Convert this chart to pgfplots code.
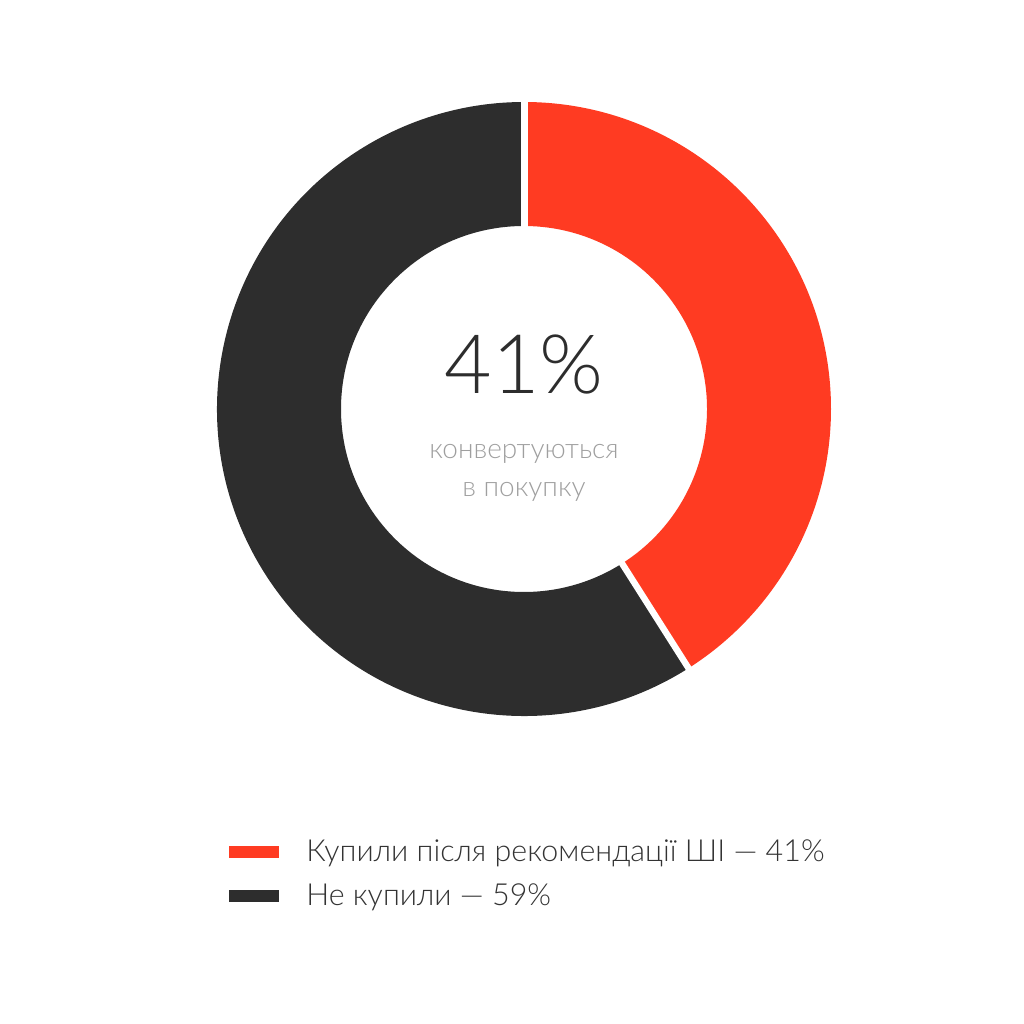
\documentclass[border=0pt]{standalone}
\usepackage{pgfplots}
\pgfplotsset{compat=1.18}
\usepackage{fontspec}
\setmainfont{Lato Light}
\definecolor{cred}{HTML}{FF3B22}
\definecolor{cdark}{HTML}{2D2D2D}
\definecolor{ctext}{HTML}{333333}
\definecolor{cgray}{HTML}{9F9F9F}
\def\valA{41}
\def\valB{59}
\begin{document}
\begin{tikzpicture}
\begin{axis}[width=512pt,height=512pt,scale only axis,
  xmin=0,xmax=1024,ymin=0,ymax=1024,hide axis,clip=false,
  legend style={at={(axis cs:229,150)},anchor=west,draw=none,fill=none,
    font=\fontsize{15.2}{17}\selectfont,text=ctext,row sep=5.5pt,
    cells={anchor=west},inner sep=0pt},
  legend image code/.code={\fill (0pt,-3pt) rectangle (25pt,3pt);\path[draw=none,fill=none] (36.5pt,0) circle[radius=0pt];},
]
\addlegendimage{fill=cred,draw=none}
\addlegendentry{Купили після рекомендації ШІ — 41\%}
\addlegendimage{fill=cdark,draw=none}
\addlegendentry{Не купили — 59\%}
\path (axis cs:524,615) coordinate (c);
\path (axis cs:0,0) coordinate (bl);
\path (axis cs:1024,1024) coordinate (tr);
\end{axis}
\pgfmathsetmacro{\angB}{90-\valA/(\valA+\valB)*360}
\pgfmathsetmacro{\angE}{\angB-\valB/(\valA+\valB)*360}
\begin{scope}[shift={(c)}]
\fill[cred] (90:153.5pt) arc[start angle=90,end angle=\angB,radius=153.5pt]
  -- (\angB:91.5pt) arc[start angle=\angB,end angle=90,radius=91.5pt] -- cycle;
\fill[cdark] (\angB:153.5pt) arc[start angle=\angB,end angle=\angE,radius=153.5pt]
  -- (\angE:91.5pt) arc[start angle=\angE,end angle=\angB,radius=91.5pt] -- cycle;
\draw[white,line width=3.5pt] (90:89pt) -- (90:156pt);
\draw[white,line width=3.2pt] (\angB:89pt) -- (\angB:156pt);
\node[text=cdark,font=\fontsize{41}{43}\selectfont,inner sep=0pt] at (0,22pt) {41\%};
\node[text=cgray,font=\fontsize{14}{19}\selectfont,align=center,inner sep=0pt] at (0,-32pt) {конвертуються\\в покупку};
\end{scope}
\pgfresetboundingbox
\path[use as bounding box] (bl) rectangle (tr);
\end{tikzpicture}
\end{document}
